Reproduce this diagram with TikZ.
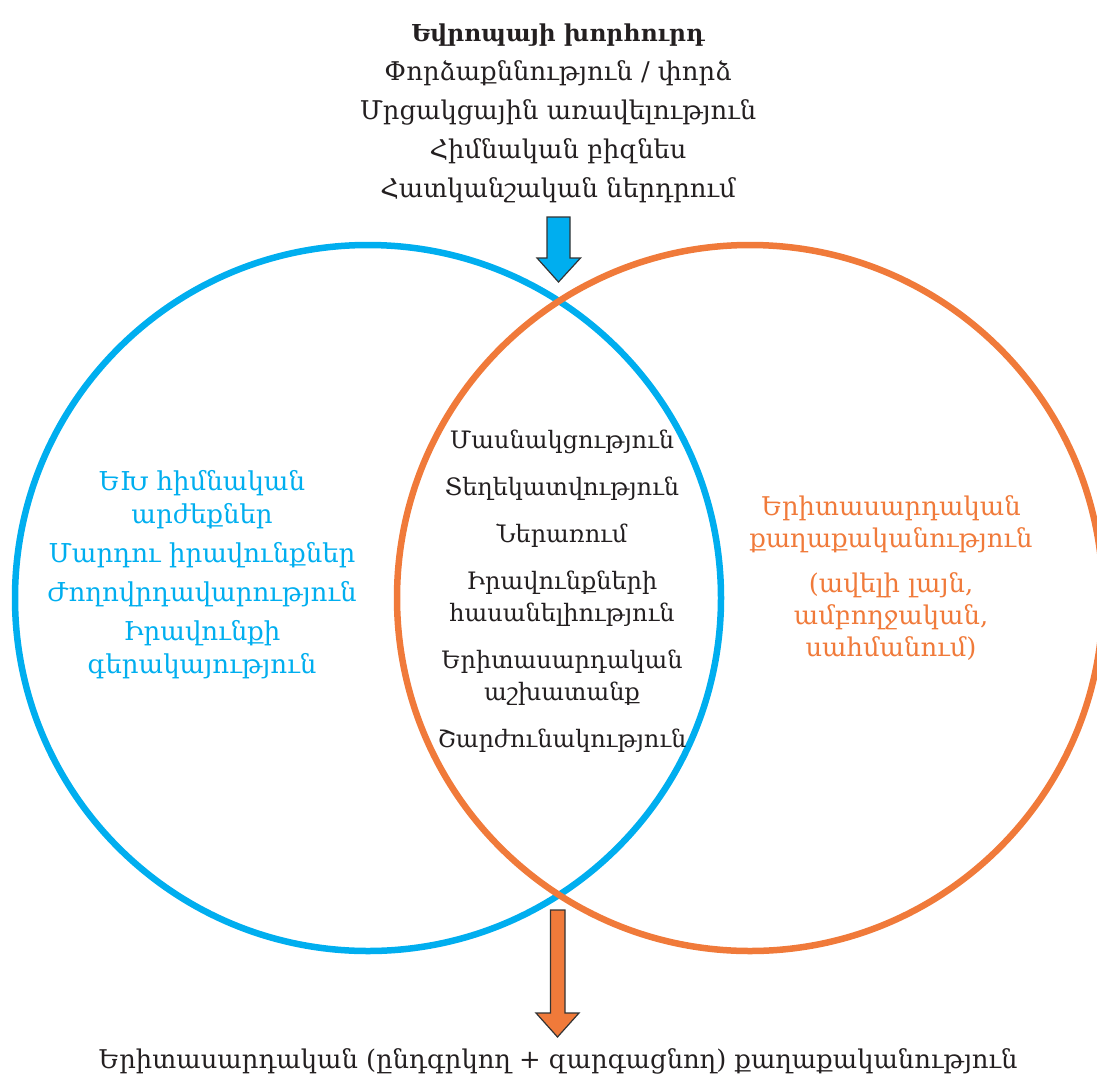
\documentclass[tikz,border=0pt]{standalone}
\usepackage{fontspec}
\setmainfont{DejaVu Serif}
\definecolor{cblue}{HTML}{00AEEF}
\definecolor{corange}{HTML}{F07A3A}
\definecolor{cedge}{HTML}{333333}
\definecolor{ctext}{HTML}{231F20}
\tikzset{
  ring/.style={line width=6.5pt},
  txt/.style={align=center, inner sep=0pt, text=ctext, font=\fontsize{24}{32}\selectfont},
  bigtxt/.style={txt, font=\fontsize{25.8}{32}\selectfont},
  blockarrow/.style={draw=cedge, line width=1.2pt, line join=miter},
}
\begin{document}
\begin{tikzpicture}[x=1pt,y=-1pt]
\useasboundingbox (0,0) rectangle (1097,1079);
% circles
\node[ring, draw=cblue, circle, minimum size=706pt, inner sep=0pt] (blue) at (368,598) {};
\node[ring, draw=corange, circle, minimum size=706pt, inner sep=0pt] (orange) at (750,598) {};
% top text
\node[bigtxt] (top) at (558,113) {{\fontsize{23.3}{32}\selectfont\bfseries Եվրոպայի խորհուրդ}\\[7pt]
Փորձաքննություն / փորձ\\[7pt]
Մրցակցային առավելություն\\[7pt]
Հիմնական բիզնես\\[7pt]
Հատկանշական ներդրում};
% left text
\node[bigtxt, text=cblue, font=\fontsize{26}{33}\selectfont] (left) at (202,575) {ԵԽ հիմնական\\
արժեքներ\\[6pt]
Մարդու իրավունքներ\\[6pt]
Ժողովրդավարություն\\[6pt]
Իրավունքի\\
գերակայություն};
% center text
\node[txt] (mid) at (562,591) {Մասնակցություն\\[15pt]
Տեղեկատվություն\\[15pt]
Ներառում\\[15pt]
Իրավունքների\\
հասանելիություն\\[15pt]
Երիտասարդական\\
աշխատանք\\[15pt]
Շարժունակություն};
% right text
\node[bigtxt, text=corange, font=\fontsize{25.8}{32}\selectfont] (right) at (891,578) {Երիտասարդական\\
քաղաքականություն\\[13pt]
(ավելի լայն,\\
ամբողջական,\\
սահմանում)};
% bottom text
\node[bigtxt] (bottom) at (558,1061) {Երիտասարդական (ընդգրկող + զարգացնող) քաղաքականություն};
% arrows
\coordinate (topTip) at (558.5,282);
\coordinate (botTip) at (557.5,1037);
\fill[cblue, blockarrow] (547,217) -- (570,217) -- (570,258) -- (580.5,258) -- (topTip) -- (537,258) -- (547,258) -- cycle;
\fill[corange, blockarrow] (550.5,910) -- (565,910) -- (565,1013) -- (579,1013) -- (botTip) -- (536,1013) -- (550.5,1013) -- cycle;
\end{tikzpicture}
\end{document}
